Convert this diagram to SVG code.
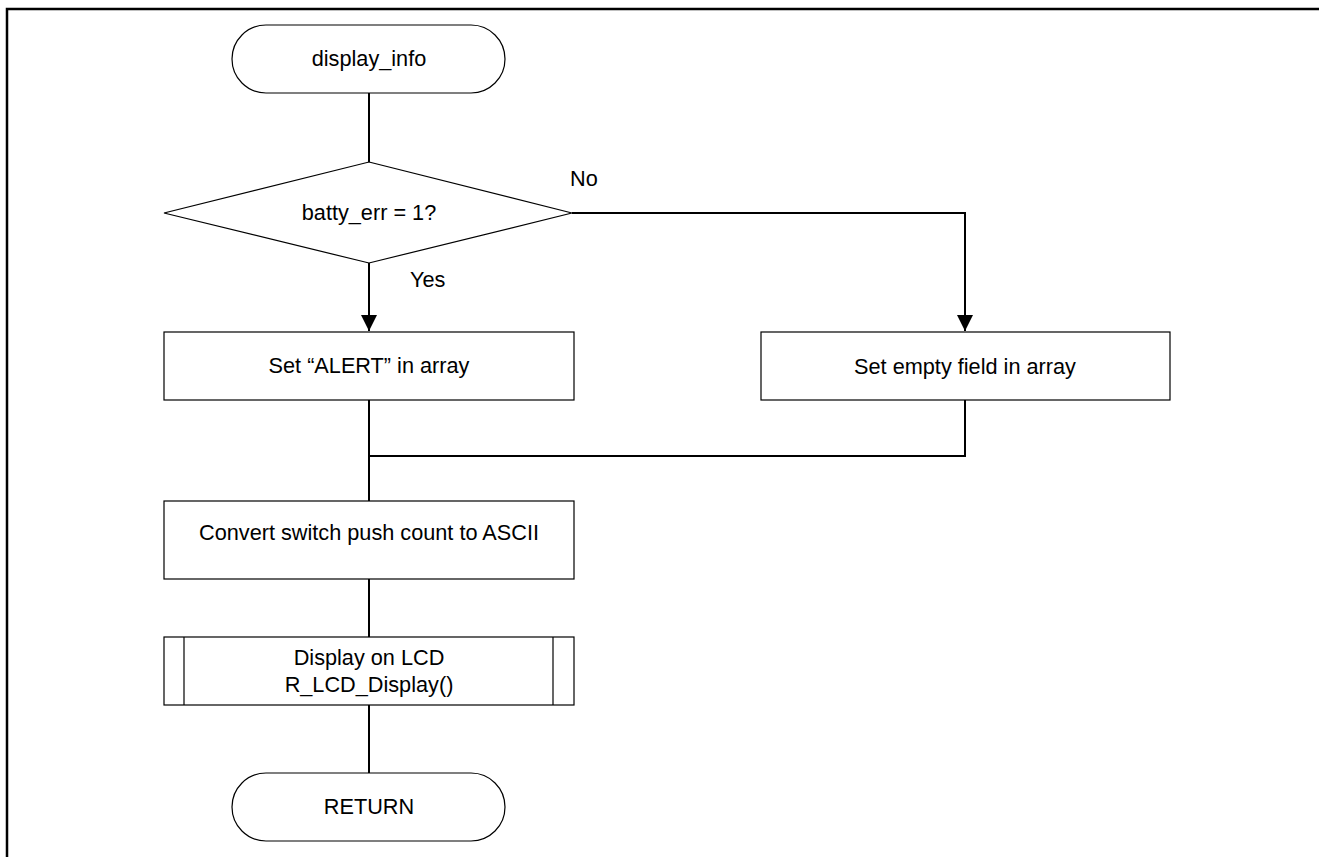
<svg xmlns="http://www.w3.org/2000/svg" width="1319" height="857" viewBox="0 0 1319 857">
<style>
.shape{fill:#fff;stroke:#000;stroke-width:1.2}
.conn{fill:none;stroke:#000;stroke-width:2}
text{font-family:"Liberation Sans",Arial,sans-serif;font-size:21.7px;fill:#000}
.c{text-anchor:middle}
</style>
<defs>
<marker id="arr" viewBox="0 0 16 20" refX="16" refY="10" markerWidth="16" markerHeight="20" markerUnits="userSpaceOnUse" orient="auto">
<path d="M0,2 L16,10 L0,18 Z" fill="#000"/>
</marker>
</defs>
<rect width="1319" height="857" fill="#fff"/>
<path d="M7,857 V9 H1319" fill="none" stroke="#000" stroke-width="2.5"/>
<g id="connectors">
<line class="conn" x1="369" y1="93" x2="369" y2="162"/>
<line class="conn" x1="369" y1="263" x2="369" y2="331" marker-end="url(#arr)"/>
<polyline class="conn" points="572,213 965,213 965,331" marker-end="url(#arr)"/>
<line class="conn" x1="369" y1="400" x2="369" y2="501"/>
<polyline class="conn" points="965,400 965,456 369,456"/>
<line class="conn" x1="369" y1="579" x2="369" y2="637"/>
<line class="conn" x1="369" y1="705" x2="369" y2="773"/>
</g>
<g id="start">
<rect class="shape" x="232" y="25" width="273" height="68" rx="34" ry="34"/>
<text class="c" x="369" y="66">display_info</text>
</g>
<g id="decision">
<polygon class="shape" points="369,162 572,213 369,263 164,213"/>
<text class="c" x="369" y="220">batty_err = 1?</text>
<text x="570" y="186">No</text>
<text x="410" y="287">Yes</text>
</g>
<g id="set-alert">
<rect class="shape" x="164" y="332" width="410" height="68"/>
<text class="c" x="369" y="373">Set “ALERT” in array</text>
</g>
<g id="set-empty">
<rect class="shape" x="761" y="332" width="409" height="68"/>
<text class="c" x="965" y="374">Set empty field in array</text>
</g>
<g id="convert">
<rect class="shape" x="164" y="501" width="410" height="78"/>
<text class="c" x="369" y="540">Convert switch push count to ASCII</text>
</g>
<g id="display-lcd">
<rect class="shape" x="164" y="637" width="410" height="68"/>
<line class="shape" x1="184" y1="637" x2="184" y2="705"/>
<line class="shape" x1="553" y1="637" x2="553" y2="705"/>
<text class="c" x="369" y="665">Display on LCD</text>
<text class="c" x="369" y="692">R_LCD_Display()</text>
</g>
<g id="return">
<rect class="shape" x="232" y="773" width="273" height="68" rx="34" ry="34"/>
<text class="c" x="369" y="814">RETURN</text>
</g>
</svg>
